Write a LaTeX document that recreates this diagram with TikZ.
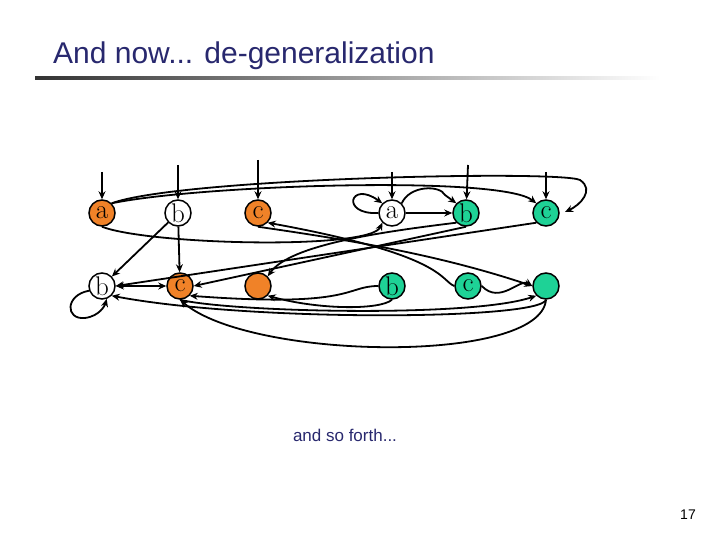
\documentclass[tikz,border=0pt]{standalone}
\usepackage{fontspec}
\setsansfont{Liberation Sans}
\usetikzlibrary{arrows.meta}
\definecolor{titleblue}{RGB}{40,40,110}
\definecolor{stor}{RGB}{240,130,40}
\definecolor{stgr}{RGB}{30,210,150}
\tikzset{st/.style={circle,draw,line width=1.5pt,minimum size=26pt,inner sep=0pt,font=\fontsize{27}{27}\selectfont\rmfamily},
 e/.style={line width=1.8pt,-{Stealth[length=8pt,width=7pt]}}}
\begin{document}
\begin{tikzpicture}[x=1pt,y=-1pt]
\useasboundingbox (0,0) rectangle (720,540);
\node[anchor=base west,text=titleblue,font=\fontsize{30}{30}\sffamily,inner sep=0pt] (title) at (53,64) {And now... de-generalization};
\shade[left color=black!80,right color=white] (35,77) rectangle (660,80);
\node[st,fill=stor] (a1) at (102,213) {a};
\node[st] (b1) at (178,213) {b};
\node[st,fill=stor] (c1) at (258,213) {c};
\node[st] (a2) at (392,213) {a};
\node[st,fill=stgr] (b2) at (466,213) {b};
\node[st,fill=stgr] (c2) at (546,213) {c};
\node[st] (b3) at (102,286) {b};
\node[st,fill=stor] (c3) at (180,286) {c};
\node[st,fill=stor] (o) at (258,286) {};
\node[st,fill=stgr] (b4) at (392,286) {b};
\node[st,fill=stgr] (c4) at (468,286) {c};
\node[st,fill=stgr] (g) at (546,286) {};
\coordinate (ia1) at (102,172);\coordinate (ib1) at (178,165);\coordinate (ic1) at (258,160);
\coordinate (ia2) at (392,172);\coordinate (ib2) at (468,165);\coordinate (ic2) at (546,172);
\draw[e] (ia1) -- (a1);\draw[e] (ib1) -- (b1);\draw[e] (ic1) -- (c1);
\draw[e] (ia2) -- (a2);\draw[e] (ib2) -- (b2);\draw[e] (ic2) -- (c2);
% first copy
\draw[e] (b1) -- (b3);
\draw[e] (b1) -- (c3);
\draw[e,{Stealth[length=8pt,width=7pt]}-{Stealth[length=8pt,width=7pt]}] (b3) -- (c3);
\draw[e] (b3.200) .. controls (65,295) and (65,320) .. (85,318) .. controls (100,316) and (105,305) .. (b3.290);
\draw[e] (a1.north east) .. controls (180,178) and (560,170) .. (580,180) .. controls (595,190) and (580,205) .. (565,212);
\draw[e] (a1.north east) .. controls (200,185) and (500,175) .. (c2.north west);
\draw[e] (a1.south) .. controls (150,245) and (370,250) .. (a2.south west);
\draw[e] (c1.south) .. controls (350,240) and (440,255) .. (g.west);
% second copy
\draw[e] (a2.west) .. controls (340,215) and (350,180) .. (a2.north west);
\draw[e] (a2) -- (b2);
\draw[e] (a2.north east) .. controls (410,185) and (440,185) .. (445,195) -- (b2.north west);
\draw[e] (b2.south) -- (c3.east);
\draw[e] (b2.south west) .. controls (380,232) and (290,245) .. (o.north east);
\draw[e] (c2.south west) -- (b3.east);
\draw[e] (b4.south) .. controls (380,310) and (320,310) .. (o.south east);
\draw[e] (b4.west) .. controls (345,286) and (355,308) .. (c3.south east);
\draw[e] (c4.west) .. controls (440,280) and (445,255) .. (c1.south east);
\draw[e] (c4.east) .. controls (500,305) and (520,278) .. (g.west);
\draw[e] (c3.south) .. controls (230,312) and (470,318) .. (g.south west);
\draw[e] (g.south) .. controls (540,320) and (250,322) .. (b3.south east);
\draw[e] (g.south) .. controls (540,365) and (250,360) .. (c3.south);
\node[text=titleblue,font=\fontsize{17}{17}\sffamily] (more) at (345,435) {and so forth...};
\node[font=\fontsize{14}{14}\sffamily] (num) at (688,515) {17};
\end{tikzpicture}
\end{document}
